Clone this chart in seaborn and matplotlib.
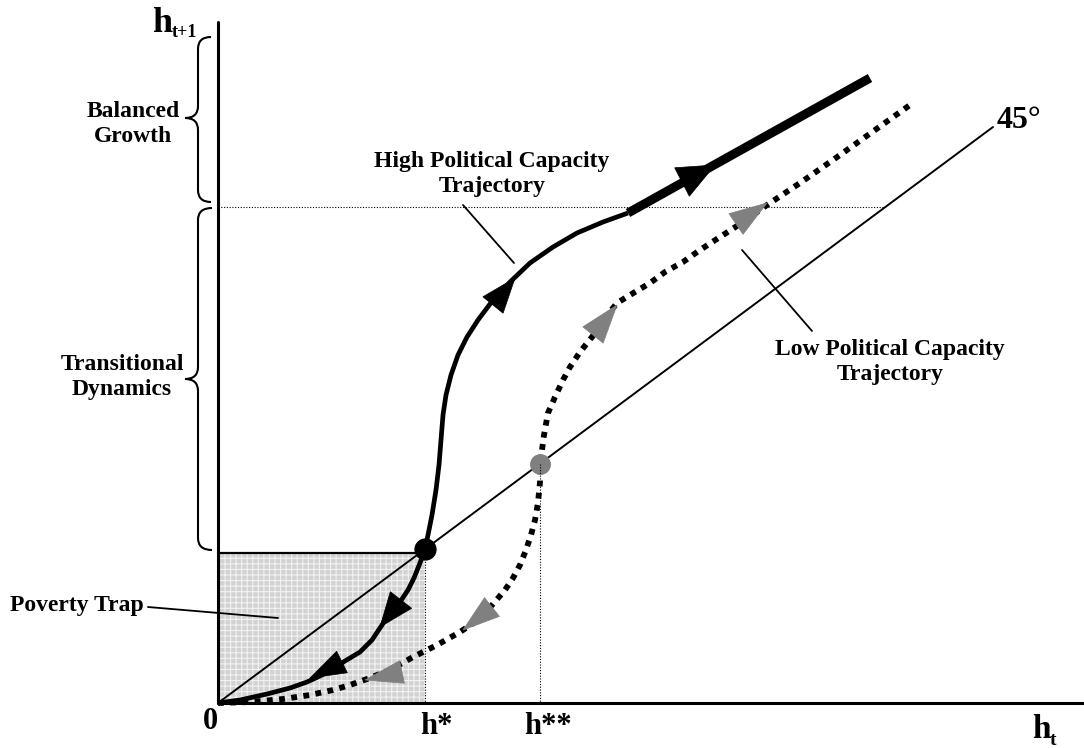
import numpy as np
import pandas as pd
import matplotlib
matplotlib.use("Agg")
import matplotlib.pyplot as plt
from matplotlib.patches import Rectangle, PathPatch, Polygon
from matplotlib.path import Path
import seaborn as sns

sns.set_theme(style="white")
plt.rcParams["font.family"] = ["Liberation Serif", "DejaVu Serif"]
plt.rcParams["hatch.linewidth"] = 0.8

# ---------------- data (diagram coordinates, y grows downward) ----------------
origin = (218, 703)
x_axis_end = 1084
y_axis_top = 22

line45_x = [218, 993]
line45_y = [703, 127]

h_star = (425, 549)
h_2star = (540, 464)
balanced_y = 207
balanced_x_end = 883
trap_top = 553

high_x = [218, 240, 267, 290, 307, 320, 333, 345, 360, 372, 380, 390, 400, 408, 414, 420, 425,
          428, 432, 436, 439, 441, 443, 446, 451, 458, 467, 478, 490, 510, 530, 553, 577, 603, 628]
high_y = [703, 700, 694, 688, 682, 676, 669, 661, 652, 640, 628, 613, 602, 590, 578, 563, 549,
          535, 515, 490, 465, 440, 415, 395, 375, 355, 337, 320, 304, 282, 263, 247, 233, 222, 213]
high_end_x = [628, 870]
high_end_y = [213, 78]

low_x = [218, 250, 283, 310, 333, 350, 367, 390, 413, 437, 460, 478, 493, 505, 513, 520, 526, 531, 535,
         538, 540, 540, 542, 544, 548, 555, 563, 570, 580, 592, 605, 617, 635, 650, 665, 683, 700, 720,
         740, 767, 800, 840, 875, 910]
low_y = [703, 702, 699, 695, 690, 685, 679, 670, 657, 645, 632, 620, 604, 590, 578, 565, 550, 535, 520,
         503, 482, 464, 450, 435, 413, 397, 380, 367, 352, 337, 318, 303, 292, 283, 272, 262, 250, 237,
         224, 205, 183, 155, 130, 105]

# arrows: base-mid, tip, head width, colour
arrow_base_x = [493, 682, 401, 342, 593, 736, 492, 402]
arrow_base_y = [305, 182, 600, 662, 335, 224, 607, 672]
arrow_tip_x = [515, 715, 380, 310, 617, 767, 463, 365]
arrow_tip_y = [278, 165, 627, 678, 305, 203, 630, 680]
arrow_width = [26, 32, 27, 24, 26, 25, 24, 23]
arrow_color = ["black"] * 4 + ["#808080"] * 4

# leader lines
leader_high = ([463, 514], [205, 263])
leader_low = ([742, 812], [250, 331])
leader_trap = ([148, 278], [607, 618])

# ---------------- figure ----------------
fig = plt.figure(figsize=(10.84, 7.48), dpi=100)
ax = fig.add_axes([0, 0, 1, 1])
ax.set_xlim(0, 1084)
ax.set_ylim(748, 0)
ax.axis("off")

# poverty trap shading
ax.add_patch(Rectangle((origin[0], trap_top), h_star[0] - origin[0], origin[1] - trap_top,
                       facecolor="#d2d2d2", edgecolor="#f2f2f2", hatch="+++", lw=0, zorder=1))
ax.plot([origin[0], h_star[0]], [trap_top, trap_top], color="black", lw=1.6, zorder=2)

# dotted guides
ax.plot([h_star[0], h_star[0]], [trap_top, origin[1]], color="black", lw=0.8, ls=(0, (1, 1.5)), zorder=2)
ax.plot([h_2star[0], h_2star[0]], [h_2star[1], origin[1]], color="black", lw=0.8, ls=(0, (1, 1.5)), zorder=6)
ax.plot([origin[0], balanced_x_end], [balanced_y, balanced_y], color="black", lw=0.8, ls=(0, (1, 1.5)), zorder=2)

# axes
ax.plot([origin[0], origin[0]], [y_axis_top, origin[1]], color="black", lw=2.2, zorder=3)
ax.plot([origin[0], x_axis_end], [origin[1], origin[1]], color="black", lw=2.2, zorder=3)

# 45 degree line
sns.lineplot(x=line45_x, y=line45_y, ax=ax, color="black", lw=1.4, sort=False, estimator=None, zorder=3)

# trajectories
df_high = pd.DataFrame({"x": high_x, "y": high_y})
sns.lineplot(data=df_high, x="x", y="y", ax=ax, color="black", lw=3.4, sort=False, estimator=None,
             zorder=4)
ax.lines[-1].set_solid_capstyle("butt")
ax.lines[-1].set_solid_joinstyle("round")
sns.lineplot(x=high_end_x, y=high_end_y, ax=ax, color="black", lw=6.5, sort=False, estimator=None, zorder=4)
ax.lines[-1].set_solid_capstyle("butt")

df_low = pd.DataFrame({"x": low_x, "y": low_y})
sns.lineplot(data=df_low, x="x", y="y", ax=ax, color="black", lw=4.2, sort=False, estimator=None,
             zorder=4)
ax.lines[-1].set_linestyle((0, (1, 1.1)))
ax.lines[-1].set_dash_capstyle("butt")

# arrow heads
for bx, by, tx, ty, w, c in zip(arrow_base_x, arrow_base_y, arrow_tip_x, arrow_tip_y, arrow_width, arrow_color):
    d = np.array([tx - bx, ty - by], dtype=float)
    d /= np.linalg.norm(d)
    n = np.array([-d[1], d[0]])
    p1 = np.array([bx, by]) + n * w / 2
    p2 = np.array([bx, by]) - n * w / 2
    ax.add_patch(Polygon([[tx, ty], p1, p2], closed=True, facecolor=c, edgecolor=c, lw=0.5, zorder=5))

# equilibrium points
ax.plot([h_star[0]], [h_star[1]], "o", color="black", markersize=15, zorder=7)
ax.plot([h_2star[0]], [h_2star[1]], "o", color="#808080", markersize=14, zorder=5)

# leader lines
for lx, ly in (leader_high, leader_low, leader_trap):
    ax.plot(lx, ly, color="black", lw=1.3, zorder=3)

# braces
def brace(x_end, x_line, x_tip, y_top, y_bot, y_tip, r=12):
    verts = [(x_end, y_top), (x_line, y_top), (x_line, y_top + r),
             (x_line, y_tip - r), (x_line, y_tip), (x_tip, y_tip),
             (x_line, y_tip), (x_line, y_tip + r),
             (x_line, y_bot - r), (x_line, y_bot), (x_end, y_bot)]
    codes = [Path.MOVETO, Path.CURVE3, Path.CURVE3,
             Path.LINETO, Path.CURVE3, Path.CURVE3,
             Path.CURVE3, Path.CURVE3,
             Path.LINETO, Path.CURVE3, Path.CURVE3]
    ax.add_patch(PathPatch(Path(verts, codes), facecolor="none", edgecolor="black", lw=1.5, zorder=3))

brace(211, 198, 185, 37, 202, 118)
brace(212, 198, 185, 208, 550, 379)

# texts
tk = dict(fontweight="bold", color="black")
ax.text(133, 124, "Balanced\nGrowth", ha="center", va="center", fontsize=17, linespacing=1.25, **tk)
ax.text(122, 377, "Transitional\nDynamics", ha="center", va="center", fontsize=17, linespacing=1.25, **tk)
ax.text(492, 174, "High Political Capacity\nTrajectory", ha="center", va="center", fontsize=17, linespacing=1.25, **tk)
ax.text(890, 362, "Low Political Capacity\nTrajectory", ha="center", va="center", fontsize=17, linespacing=1.25, **tk)
ax.text(10, 606, "Poverty Trap", ha="left", va="center", fontsize=17, **tk)
ax.text(997, 128, "45°", ha="left", va="baseline", fontsize=23, **tk)

ax.text(210, 729, "0", ha="center", va="baseline", fontsize=22, **tk)
ax.text(436, 734, "h*", ha="center", va="baseline", fontsize=22, **tk)
ax.text(548, 734, "h**", ha="center", va="baseline", fontsize=22, **tk)
ax.text(1032, 738, "h", ha="left", va="baseline", fontsize=24, **tk)
ax.text(1050, 745, "t", ha="left", va="baseline", fontsize=14, **tk)
ax.text(152, 32, "h", ha="left", va="baseline", fontsize=26, **tk)
ax.text(172, 37, "t+1", ha="left", va="baseline", fontsize=13, **tk)

fig.savefig("out.png", dpi=100)
